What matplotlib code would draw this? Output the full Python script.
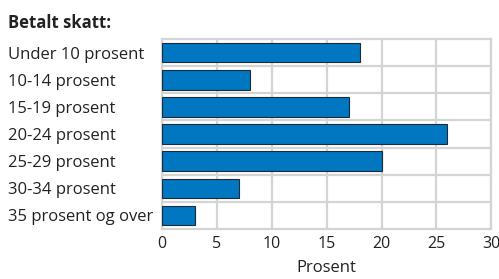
import matplotlib.pyplot as plt
import numpy as np

plt.rcParams['font.family'] = ['Open Sans', 'DejaVu Sans']

# Data
categories = ['Under 10 prosent', '10-14 prosent', '15-19 prosent', '20-24 prosent',
              '25-29 prosent', '30-34 prosent', '35 prosent og over']
values = [18, 8, 17, 26, 20, 7, 3]
xticks = [0, 5, 10, 15, 20, 25, 30]

fig = plt.figure(figsize=(4.99, 2.79), dpi=100)
ax = fig.add_axes([0.3246, 0.179, 0.66, 0.681])

y = np.arange(len(categories))
ax.barh(y, values, height=0.72, color='#0077c0', edgecolor='#1c2b3a', linewidth=0.8, zorder=3)

ax.set_ylim(len(categories) - 0.5, -0.5)
ax.set_xlim(0, 30)
ax.set_xticks(xticks)
ax.set_yticks(y)
ax.set_yticklabels(categories, ha='left')
ax.set_yticks(np.arange(len(categories) - 1) + 0.5, minor=True)

grid_col = '#d4d4d4'
ax.grid(axis='x', which='major', color=grid_col, linewidth=1.6, zorder=0)
ax.grid(axis='y', which='minor', color=grid_col, linewidth=1.6, zorder=0)
for s in ax.spines.values():
    s.set_color(grid_col)
    s.set_linewidth(1.6)
ax.tick_params(which='both', length=0, labelsize=12, colors='#222222')
ax.tick_params(axis='y', pad=154 * 0.72)
ax.tick_params(axis='x', pad=5, labelsize=11.5)

ax.set_xlabel('Prosent', fontsize=12, color='#222222', labelpad=6)
fig.text(0.016, 0.9, 'Betalt skatt:', fontsize=12, fontweight='bold', color='#222222')

fig.savefig('out.png', dpi=100)
